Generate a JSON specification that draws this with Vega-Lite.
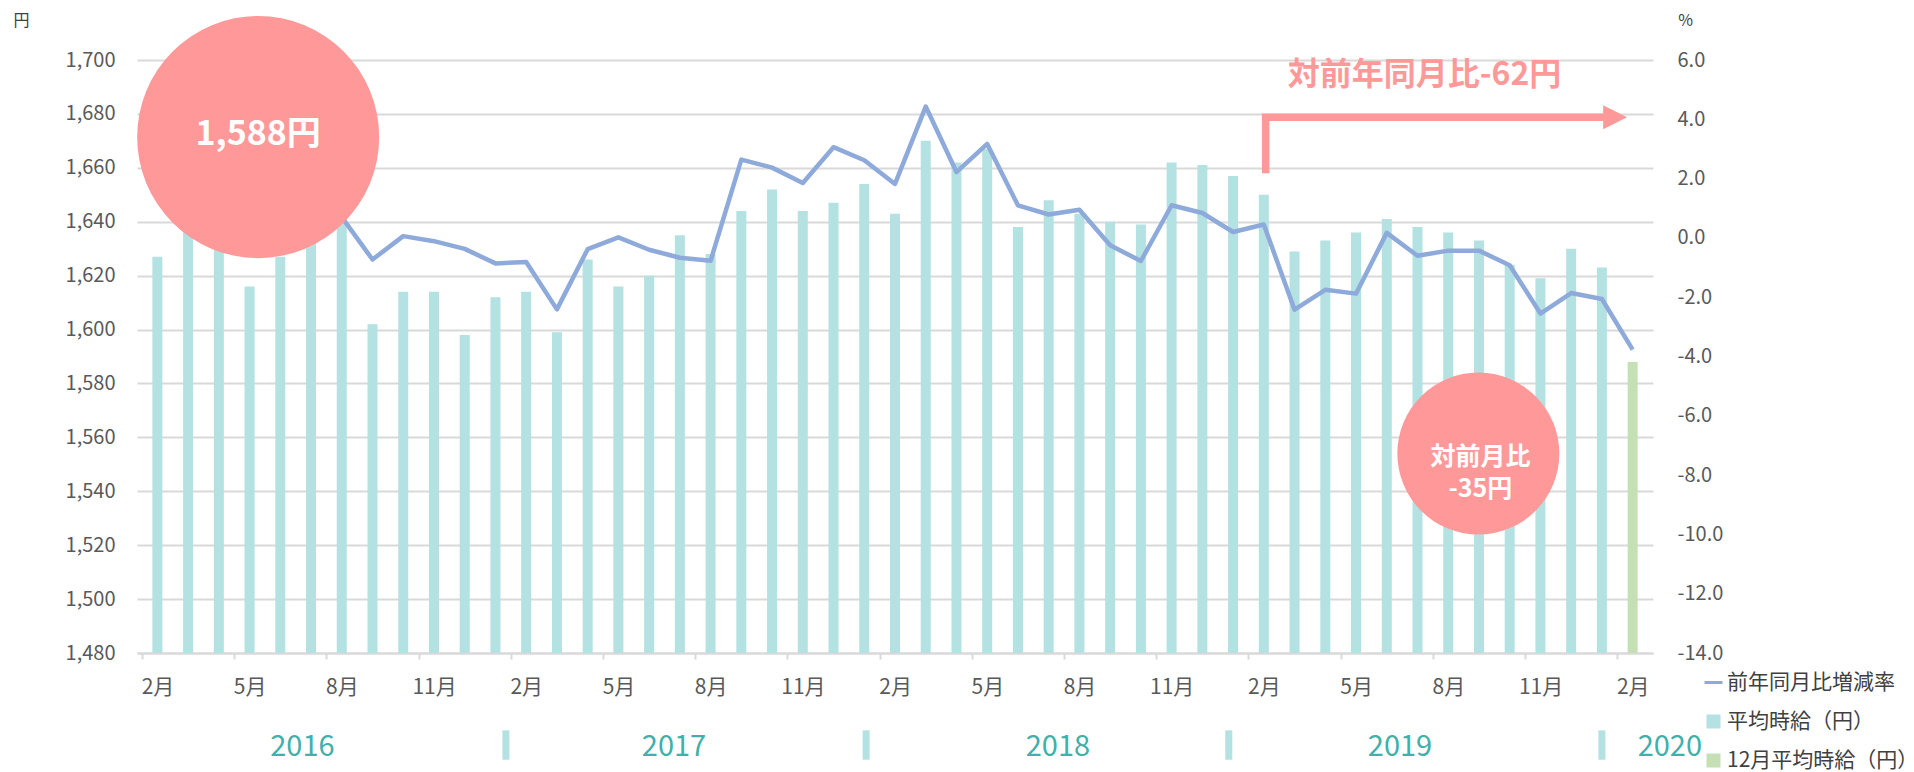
{
  "$schema": "https://vega.github.io/schema/vega-lite/v6.json",
  "width": 1516,
  "height": 593,
  "autosize": {"type": "none"},
  "padding": {"left": 137, "top": 60, "right": 261, "bottom": 119},
  "background": "white",
  "config": {
    "view": {"stroke": null},
    "font": "Noto Sans CJK JP",
    "locale": {"number": {"decimal": ".", "thousands": ",", "grouping": [3], "currency": ["", ""], "minus": "-"}}
  },
  "datasets": {
    "wage": [
      {"i": 0, "month": "2016-02", "wage": 1627, "yoy": 2.5, "series": "平均時給（円）"},
      {"i": 1, "month": "2016-03", "wage": 1638, "yoy": 2.0, "series": "平均時給（円）"},
      {"i": 2, "month": "2016-04", "wage": 1632, "yoy": 1.6, "series": "平均時給（円）"},
      {"i": 3, "month": "2016-05", "wage": 1616, "yoy": 1.8, "series": "平均時給（円）"},
      {"i": 4, "month": "2016-06", "wage": 1627, "yoy": 1.5, "series": "平均時給（円）"},
      {"i": 5, "month": "2016-07", "wage": 1646, "yoy": 1.2, "series": "平均時給（円）"},
      {"i": 6, "month": "2016-08", "wage": 1641, "yoy": 0.7, "series": "平均時給（円）"},
      {"i": 7, "month": "2016-09", "wage": 1602, "yoy": -0.73, "series": "平均時給（円）"},
      {"i": 8, "month": "2016-10", "wage": 1614, "yoy": 0.06, "series": "平均時給（円）"},
      {"i": 9, "month": "2016-11", "wage": 1614, "yoy": -0.11, "series": "平均時給（円）"},
      {"i": 10, "month": "2016-12", "wage": 1598, "yoy": -0.37, "series": "平均時給（円）"},
      {"i": 11, "month": "2017-01", "wage": 1612, "yoy": -0.86, "series": "平均時給（円）"},
      {"i": 12, "month": "2017-02", "wage": 1614, "yoy": -0.81, "series": "平均時給（円）"},
      {"i": 13, "month": "2017-03", "wage": 1599, "yoy": -2.41, "series": "平均時給（円）"},
      {"i": 14, "month": "2017-04", "wage": 1626, "yoy": -0.38, "series": "平均時給（円）"},
      {"i": 15, "month": "2017-05", "wage": 1616, "yoy": 0.02, "series": "平均時給（円）"},
      {"i": 16, "month": "2017-06", "wage": 1620, "yoy": -0.40, "series": "平均時給（円）"},
      {"i": 17, "month": "2017-07", "wage": 1635, "yoy": -0.67, "series": "平均時給（円）"},
      {"i": 18, "month": "2017-08", "wage": 1628, "yoy": -0.77, "series": "平均時給（円）"},
      {"i": 19, "month": "2017-09", "wage": 1644, "yoy": 2.64, "series": "平均時給（円）"},
      {"i": 20, "month": "2017-10", "wage": 1652, "yoy": 2.37, "series": "平均時給（円）"},
      {"i": 21, "month": "2017-11", "wage": 1644, "yoy": 1.85, "series": "平均時給（円）"},
      {"i": 22, "month": "2017-12", "wage": 1647, "yoy": 3.06, "series": "平均時給（円）"},
      {"i": 23, "month": "2018-01", "wage": 1654, "yoy": 2.62, "series": "平均時給（円）"},
      {"i": 24, "month": "2018-02", "wage": 1643, "yoy": 1.82, "series": "平均時給（円）"},
      {"i": 25, "month": "2018-03", "wage": 1670, "yoy": 4.43, "series": "平均時給（円）"},
      {"i": 26, "month": "2018-04", "wage": 1662, "yoy": 2.22, "series": "平均時給（円）"},
      {"i": 27, "month": "2018-05", "wage": 1667, "yoy": 3.17, "series": "平均時給（円）"},
      {"i": 28, "month": "2018-06", "wage": 1638, "yoy": 1.10, "series": "平均時給（円）"},
      {"i": 29, "month": "2018-07", "wage": 1648, "yoy": 0.79, "series": "平均時給（円）"},
      {"i": 30, "month": "2018-08", "wage": 1643, "yoy": 0.95, "series": "平均時給（円）"},
      {"i": 31, "month": "2018-09", "wage": 1640, "yoy": -0.25, "series": "平均時給（円）"},
      {"i": 32, "month": "2018-10", "wage": 1639, "yoy": -0.78, "series": "平均時給（円）"},
      {"i": 33, "month": "2018-11", "wage": 1662, "yoy": 1.10, "series": "平均時給（円）"},
      {"i": 34, "month": "2018-12", "wage": 1661, "yoy": 0.84, "series": "平均時給（円）"},
      {"i": 35, "month": "2019-01", "wage": 1657, "yoy": 0.20, "series": "平均時給（円）"},
      {"i": 36, "month": "2019-02", "wage": 1650, "yoy": 0.45, "series": "平均時給（円）"},
      {"i": 37, "month": "2019-03", "wage": 1629, "yoy": -2.42, "series": "平均時給（円）"},
      {"i": 38, "month": "2019-04", "wage": 1633, "yoy": -1.75, "series": "平均時給（円）"},
      {"i": 39, "month": "2019-05", "wage": 1636, "yoy": -1.88, "series": "平均時給（円）"},
      {"i": 40, "month": "2019-06", "wage": 1641, "yoy": 0.17, "series": "平均時給（円）"},
      {"i": 41, "month": "2019-07", "wage": 1638, "yoy": -0.60, "series": "平均時給（円）"},
      {"i": 42, "month": "2019-08", "wage": 1636, "yoy": -0.43, "series": "平均時給（円）"},
      {"i": 43, "month": "2019-09", "wage": 1633, "yoy": -0.43, "series": "平均時給（円）"},
      {"i": 44, "month": "2019-10", "wage": 1624, "yoy": -0.92, "series": "平均時給（円）"},
      {"i": 45, "month": "2019-11", "wage": 1619, "yoy": -2.55, "series": "平均時給（円）"},
      {"i": 46, "month": "2019-12", "wage": 1630, "yoy": -1.86, "series": "平均時給（円）"},
      {"i": 47, "month": "2020-01", "wage": 1623, "yoy": -2.06, "series": "平均時給（円）"},
      {"i": 48, "month": "2020-02", "wage": 1588, "yoy": -3.77, "series": "12月平均時給（円）"}
    ]
  },
  "layer": [
    {
      "data": {"name": "wage"},
      "mark": {"type": "bar", "width": 10},
      "encoding": {
        "x": {
          "field": "i", "type": "quantitative",
          "scale": {"domain": [-0.5, 48.5], "nice": false, "zero": false},
          "axis": {
            "title": null,
            "values": [-0.5, 2.5, 5.5, 8.5, 11.5, 14.5, 17.5, 20.5, 23.5, 26.5, 29.5, 32.5, 35.5, 38.5, 41.5, 44.5, 47.5],
            "labelExpr": "((datum.value + 1.5) % 12 + 1) + '月'",
            "labelOffset": 15.47,
            "grid": false,
            "domainColor": "#d9d9d9", "domainWidth": 2,
            "tickColor": "#d9d9d9", "tickWidth": 2, "tickSize": 6,
            "labelPadding": 17, "labelFontSize": 21, "labelColor": "#595959",
            "labelFont": "Noto Sans CJK JP",
            "labelOverlap": false, "labelFlush": false, "labelBound": false
          }
        },
        "y": {
          "field": "wage", "type": "quantitative",
          "scale": {"domain": [1480, 1700], "nice": false, "zero": false},
          "axis": {
            "title": "円", "titleAngle": 0, "titleX": -116, "titleY": -40,
            "titleAlign": "center", "titleBaseline": "middle",
            "titleFontSize": 16, "titleFontWeight": "normal", "titleColor": "#404040",
            "titleFont": "Noto Sans CJK JP",
            "values": [1480, 1500, 1520, 1540, 1560, 1580, 1600, 1620, 1640, 1660, 1680, 1700],
            "format": ",.0f", "grid": true, "gridColor": "#d9d9d9", "gridWidth": 2,
            "domain": false, "ticks": false, "labelPadding": 22,
            "labelFontSize": 20, "labelColor": "#595959", "labelFont": "Noto Sans CJK JP"
          }
        },
        "y2": {"datum": 1480},
        "color": {
          "field": "series", "type": "nominal",
          "scale": {"domain": ["前年同月比増減率", "平均時給（円）", "12月平均時給（円）"], "range": ["#8eaadb", "#b4e1e1", "#c5e0b4"]},
          "legend": {
            "title": null, "orient": "none", "legendX": 1566, "legendY": 612,
            "direction": "vertical", "padding": 0,
            "labelFontSize": 21, "labelColor": "#404040", "labelFont": "Noto Sans CJK JP",
            "rowPadding": 17, "labelOffset": 3, "labelLimit": 400,
            "symbolSize": 324, "symbolStrokeWidth": 3,
            "encode": {
              "symbols": {
                "update": {
                  "shape": {"signal": "datum.value === '前年同月比増減率' ? 'stroke' : 'square'"},
                  "size": {"signal": "datum.value === '前年同月比増減率' ? 324 : 196"},
                  "fill": {"scale": "color", "field": "value"},
                  "stroke": {"scale": "color", "field": "value"},
                  "strokeWidth": {"signal": "datum.value === '前年同月比増減率' ? 3 : 0"},
                  "opacity": {"value": 1}
                }
              }
            }
          }
        }
      }
    },
    {
      "data": {"name": "wage"},
      "mark": {"type": "line", "strokeWidth": 4.5, "strokeJoin": "round"},
      "encoding": {
        "x": {"field": "i", "type": "quantitative", "scale": {"domain": [-0.5, 48.5], "nice": false, "zero": false}, "axis": null},
        "y": {
          "field": "yoy", "type": "quantitative",
          "scale": {"domain": [-14, 6], "nice": false, "zero": false},
          "axis": {
            "orient": "right", "title": "%", "titleAngle": 0, "titleX": 32, "titleY": -40,
            "titleAlign": "center", "titleBaseline": "middle",
            "titleFontSize": 16, "titleFontWeight": "normal", "titleColor": "#404040",
            "titleFont": "Noto Sans CJK JP",
            "values": [-14, -12, -10, -8, -6, -4, -2, 0, 2, 4, 6],
            "format": ".1f", "grid": false, "domain": false, "ticks": false,
            "labelPadding": 24, "labelFontSize": 20, "labelColor": "#595959", "labelFont": "Noto Sans CJK JP"
          }
        },
        "color": {
          "datum": "前年同月比増減率",
          "scale": {"domain": ["前年同月比増減率", "平均時給（円）", "12月平均時給（円）"], "range": ["#8eaadb", "#b4e1e1", "#c5e0b4"]}
        }
      }
    },
    {
      "data": {"values": [{"x": 3.28, "y": 1671.4, "d": "big"}, {"x": 42.98, "y": 1554.0, "d": "small"}]},
      "mark": {"type": "point", "shape": "circle", "filled": true, "opacity": 1, "color": "#ff9999"},
      "encoding": {
        "x": {"field": "x", "type": "quantitative", "scale": {"domain": [-0.5, 48.5], "nice": false, "zero": false}, "axis": null},
        "y": {"field": "y", "type": "quantitative", "scale": {"domain": [1480, 1700], "nice": false, "zero": false}, "axis": null},
        "size": {"field": "d", "type": "nominal", "scale": {"domain": ["big", "small"], "range": [58564, 26244]}, "legend": null}
      }
    },
    {
      "data": {"values": [{"x": 3.28, "y": 1672.0, "label": "1,588円"}]},
      "mark": {"type": "text", "color": "white", "fontSize": 34, "fontWeight": "bold", "font": "Noto Sans CJK JP", "align": "center", "baseline": "middle"},
      "encoding": {
        "x": {"field": "x", "type": "quantitative", "scale": {"domain": [-0.5, 48.5], "nice": false, "zero": false}, "axis": null},
        "y": {"field": "y", "type": "quantitative", "scale": {"domain": [1480, 1700], "nice": false, "zero": false}, "axis": null},
        "text": {"field": "label"}
      }
    },
    {
      "data": {"values": [{"x": 43.05, "y": 1552.8, "label": "対前月比\n-35円"}]},
      "mark": {"type": "text", "color": "white", "fontSize": 25, "fontWeight": "bold", "font": "Noto Sans CJK JP", "align": "center", "baseline": "middle", "lineBreak": "\n", "lineHeight": 32},
      "encoding": {
        "x": {"field": "x", "type": "quantitative", "scale": {"domain": [-0.5, 48.5], "nice": false, "zero": false}, "axis": null},
        "y": {"field": "y", "type": "quantitative", "scale": {"domain": [1480, 1700], "nice": false, "zero": false}, "axis": null},
        "text": {"field": "label"}
      }
    },
    {
      "data": {"values": [{"x": 36.06, "y": 1658.0, "o": 1}, {"x": 36.06, "y": 1678.75, "o": 2}, {"x": 47.1, "y": 1678.75, "o": 3}]},
      "mark": {"type": "line", "stroke": "#ff9999", "strokeWidth": 7.5, "strokeCap": "butt", "strokeJoin": "miter"},
      "encoding": {
        "x": {"field": "x", "type": "quantitative", "scale": {"domain": [-0.5, 48.5], "nice": false, "zero": false}, "axis": null},
        "y": {"field": "y", "type": "quantitative", "scale": {"domain": [1480, 1700], "nice": false, "zero": false}, "axis": null},
        "order": {"field": "o", "type": "quantitative"}
      }
    },
    {
      "data": {"values": [{"x": 47.43, "y": 1678.75}]},
      "mark": {"type": "point", "shape": "M-1,-1L1,0L-1,1Z", "filled": true, "opacity": 1, "color": "#ff9999", "size": 576},
      "encoding": {
        "x": {"field": "x", "type": "quantitative", "scale": {"domain": [-0.5, 48.5], "nice": false, "zero": false}, "axis": null},
        "y": {"field": "y", "type": "quantitative", "scale": {"domain": [1480, 1700], "nice": false, "zero": false}, "axis": null}
      }
    },
    {
      "data": {"values": [{"x": 41.23, "y": 1694.4, "label": "対前年同月比-62円"}]},
      "mark": {"type": "text", "color": "#ff9999", "fontSize": 32, "fontWeight": "bold", "font": "Noto Sans CJK JP", "align": "center", "baseline": "middle"},
      "encoding": {
        "x": {"field": "x", "type": "quantitative", "scale": {"domain": [-0.5, 48.5], "nice": false, "zero": false}, "axis": null},
        "y": {"field": "y", "type": "quantitative", "scale": {"domain": [1480, 1700], "nice": false, "zero": false}, "axis": null},
        "text": {"field": "label"}
      }
    },
    {
      "data": {"values": [
        {"x": 11.34, "y": 1451.3, "y2": 1440.4},
        {"x": 23.06, "y": 1451.3, "y2": 1440.4},
        {"x": 34.86, "y": 1451.3, "y2": 1440.4},
        {"x": 47.0, "y": 1451.3, "y2": 1440.4}
      ]},
      "mark": {"type": "rule", "color": "#b4e1e1", "strokeWidth": 7},
      "encoding": {
        "x": {"field": "x", "type": "quantitative", "scale": {"domain": [-0.5, 48.5], "nice": false, "zero": false}, "axis": null},
        "y": {"field": "y", "type": "quantitative", "scale": {"domain": [1480, 1700], "nice": false, "zero": false}, "axis": null},
        "y2": {"field": "y2"}
      }
    },
    {
      "data": {"values": [
        {"x": 4.72, "y": 1445.3, "year": "2016"},
        {"x": 16.81, "y": 1445.3, "year": "2017"},
        {"x": 29.30, "y": 1445.3, "year": "2018"},
        {"x": 40.43, "y": 1445.3, "year": "2019"},
        {"x": 49.21, "y": 1445.3, "year": "2020"}
      ]},
      "mark": {"type": "text", "color": "#3fb0ac", "fontSize": 29, "font": "Noto Sans CJK JP", "align": "center", "baseline": "middle"},
      "encoding": {
        "x": {"field": "x", "type": "quantitative", "scale": {"domain": [-0.5, 48.5], "nice": false, "zero": false}, "axis": null},
        "y": {"field": "y", "type": "quantitative", "scale": {"domain": [1480, 1700], "nice": false, "zero": false}, "axis": null},
        "text": {"field": "year"}
      }
    }
  ],
  "resolve": {"scale": {"y": "independent"}, "axis": {"x": "independent"}}
}
